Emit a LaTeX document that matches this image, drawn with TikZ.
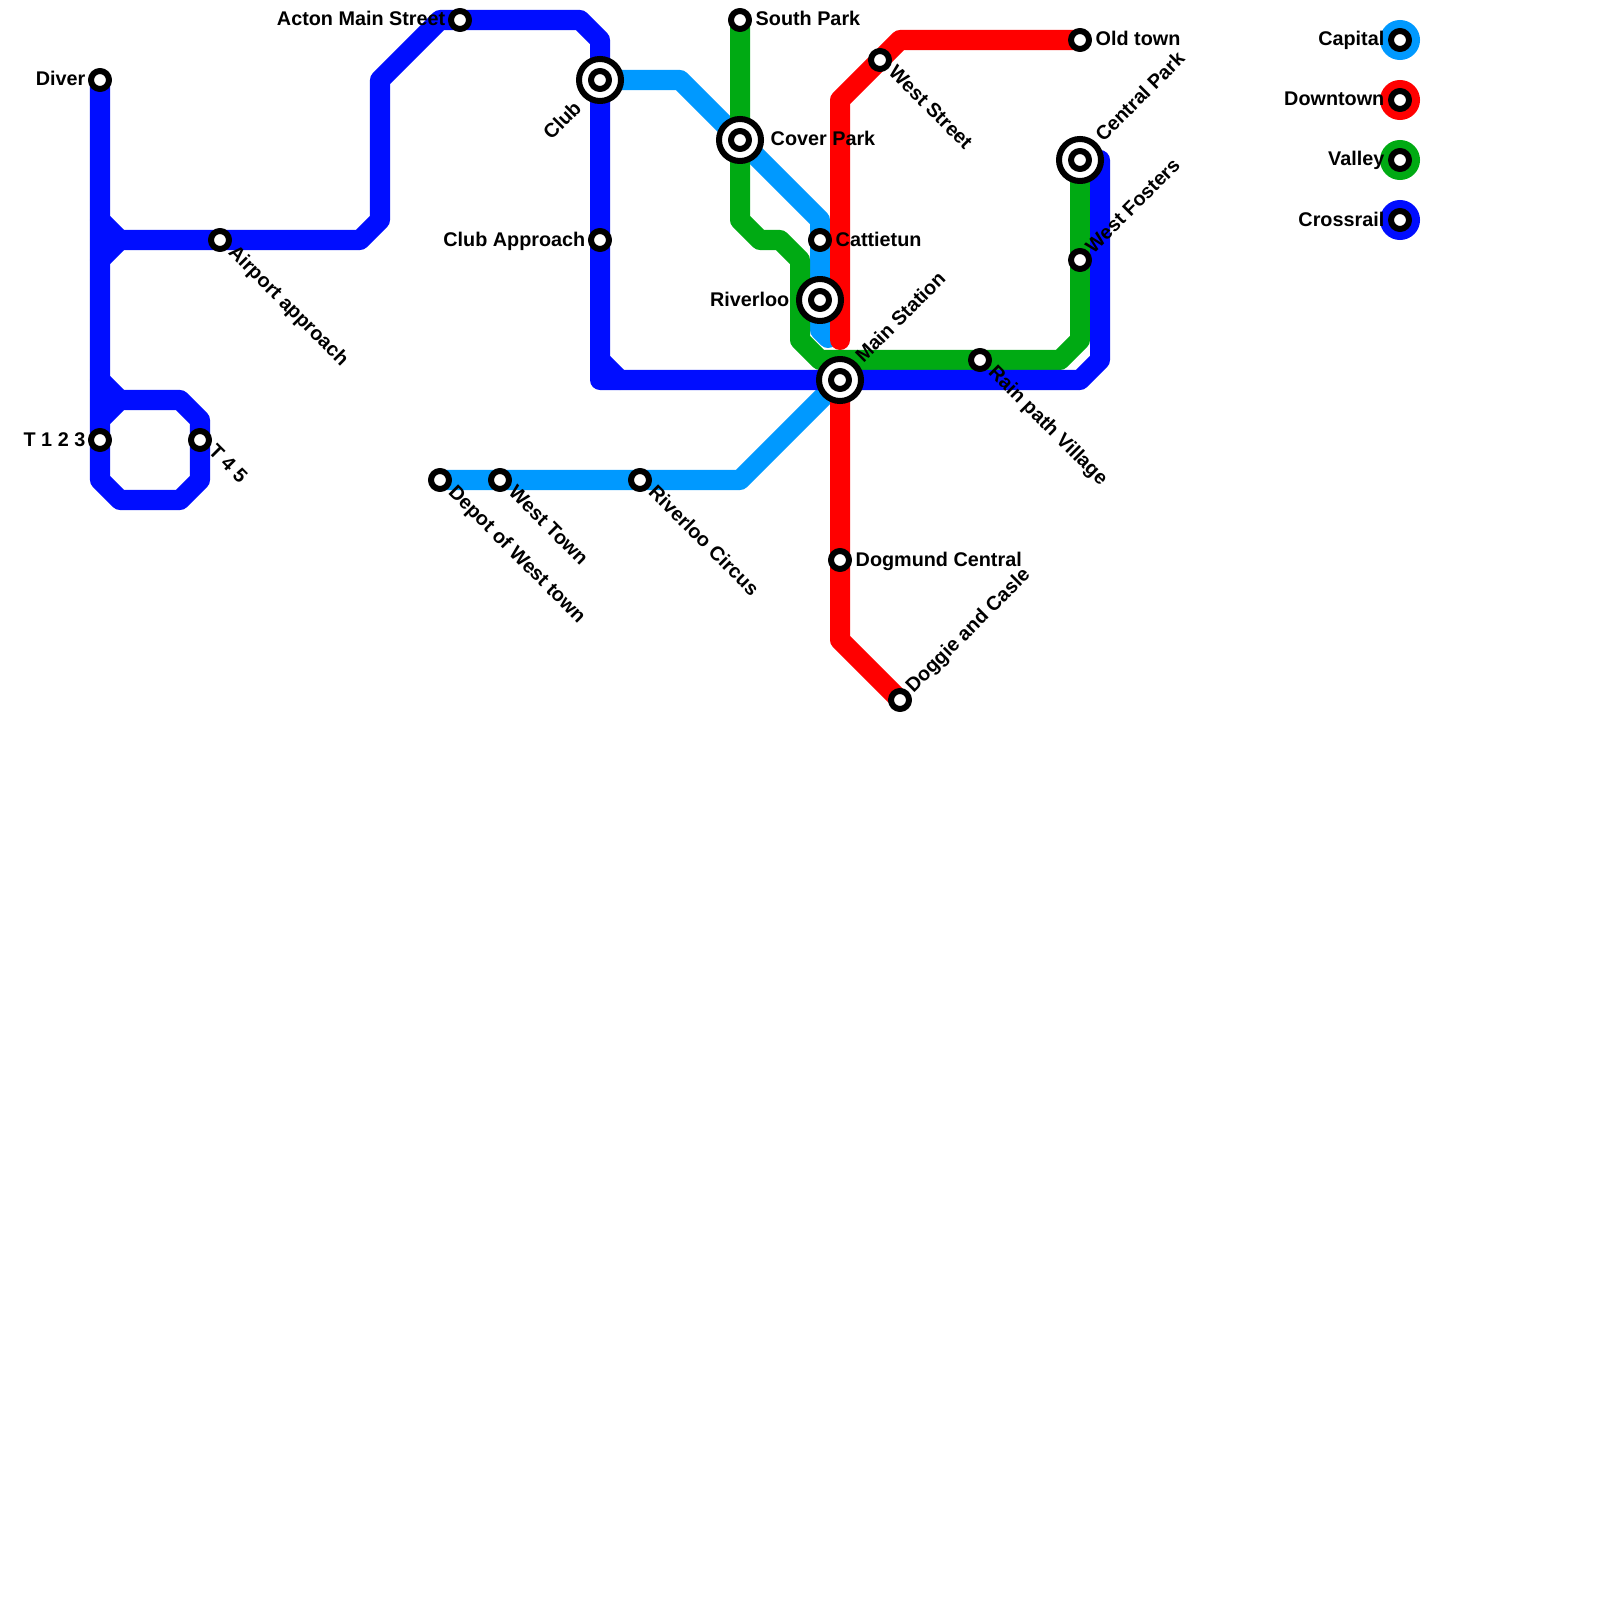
\documentclass[tikz,border=0pt]{standalone}
\usepackage{fontspec}
\setmainfont{Liberation Sans}
\definecolor{capital}{RGB}{0,153,255}
\definecolor{downtown}{RGB}{255,0,0}
\definecolor{valley}{RGB}{0,170,19}
\definecolor{crossrail}{RGB}{0,13,255}
\tikzset{
  route/.style={line width=0.2cm},
  stopmark/.style={circle, draw=black, fill=white, line width=0.06cm, minimum size=0.18cm, inner sep=0pt},
  hubmark/.style={circle, draw=black, fill=white, line width=0.06cm, minimum size=0.42cm, inner sep=0pt},
  keydisc/.style={circle, minimum size=0.4cm, inner sep=0pt},
  lab/.style={font=\fontsize{5.63}{6.5}\selectfont\bfseries, inner sep=0pt, text=black},
  labl/.style={lab, anchor=base east},
  labr/.style={lab, anchor=base west},
  labdown/.style={lab, anchor=base west, rotate=-45},
  labup/.style={lab, anchor=base west, rotate=45},
  labupend/.style={lab, anchor=base east, rotate=45},
}
\begin{document}
\begin{tikzpicture}[x=0.01cm, y=-0.01cm, line cap=round, line join=round]
\useasboundingbox (0,0) rectangle (1600,1600);

% fermate
\coordinate (Diver) at (100,80);
\coordinate (Tonetwothree) at (100,440);
\coordinate (Tfourfive) at (200,440);
\coordinate (Airport) at (220,240);
\coordinate (Acton) at (460,20);
\coordinate (Club) at (600,80);
\coordinate (ClubAppr) at (600,240);
\coordinate (Depot) at (440,480);
\coordinate (WestTown) at (500,480);
\coordinate (RivCircus) at (640,480);
\coordinate (SouthPark) at (740,20);
\coordinate (CoverPark) at (740,140);
\coordinate (Cattietun) at (820,240);
\coordinate (Riverloo) at (820,300);
\coordinate (MainSt) at (840,380);
\coordinate (WestSt) at (880,60);
\coordinate (Dogmund) at (840,560);
\coordinate (Doggie) at (900,700);
\coordinate (RainPath) at (980,360);
\coordinate (OldTown) at (1080,40);
\coordinate (CentralPark) at (1080,160);
\coordinate (WestFosters) at (1080,260);

% capital
\draw[route, capital] (Depot) -- (740,480) -- (MainSt);
\draw[route, capital] (Club) -- (680,80) -- (820,220) -- (820,330) -- (828,338);

% downtown
\draw[route, downtown] (OldTown) -- (900,40) -- (840,100) -- (840,340);
\draw[route, downtown] (MainSt) -- (840,640) -- (Doggie);

% valley
\draw[route, valley] (SouthPark) -- (740,220) -- (760,240) -- (780,240) -- (800,260) -- (800,340) -- (820,360) -- (1060,360) -- (1080,340) -- (CentralPark);

% crossrail
\draw[route, crossrail] (Diver) -- (100,480) -- (120,500) -- (180,500) -- (200,480) -- (200,420) -- (180,400) -- (120,400) -- (100,420);
\draw[route, crossrail] (100,380) -- (120,400);
\draw[route, crossrail] (100,220) -- (120,240) -- (100,260);
\draw[route, crossrail] (120,240) -- (360,240) -- (380,220) -- (380,80) -- (440,20) -- (580,20) -- (600,40) -- (600,380) -- (1080,380) -- (1100,360) -- (1100,160);
\draw[route, crossrail] (600,360) -- (620,380);

% anelli grandi
\node[hubmark] (ClubRing) at (Club) {};
\node[hubmark] (CoverRing) at (CoverPark) {};
\node[hubmark] (RiverlooRing) at (Riverloo) {};
\node[hubmark] (MainRing) at (MainSt) {};
\node[hubmark] (CentralRing) at (CentralPark) {};

% anelli piccoli
\node[stopmark] (DiverDot) at (Diver) {};
\node[stopmark] (TonetwothreeDot) at (Tonetwothree) {};
\node[stopmark] (TfourfiveDot) at (Tfourfive) {};
\node[stopmark] (AirportDot) at (Airport) {};
\node[stopmark] (ActonDot) at (Acton) {};
\node[stopmark] (ClubDot) at (Club) {};
\node[stopmark] (ClubApprDot) at (ClubAppr) {};
\node[stopmark] (DepotDot) at (Depot) {};
\node[stopmark] (WestTownDot) at (WestTown) {};
\node[stopmark] (RivCircusDot) at (RivCircus) {};
\node[stopmark] (SouthParkDot) at (SouthPark) {};
\node[stopmark] (CoverParkDot) at (CoverPark) {};
\node[stopmark] (CattietunDot) at (Cattietun) {};
\node[stopmark] (RiverlooDot) at (Riverloo) {};
\node[stopmark] (MainStDot) at (MainSt) {};
\node[stopmark] (WestStDot) at (WestSt) {};
\node[stopmark] (DogmundDot) at (Dogmund) {};
\node[stopmark] (DoggieDot) at (Doggie) {};
\node[stopmark] (RainPathDot) at (RainPath) {};
\node[stopmark] (OldTownDot) at (OldTown) {};
\node[stopmark] (CentralParkDot) at (CentralPark) {};
\node[stopmark] (WestFostersDot) at (WestFosters) {};

% etichette
\node[labl] (DiverLab) at (86,86) {Diver};
\node[labl] (TonetwothreeLab) at (86,446) {T 1 2 3};
\node[labdown] (TfourfiveLab) at (207,452) {T 4 5};
\node[labdown] (AirportLab) at (227,253) {Airport approach};
\node[labl] (ActonLab) at (446,26) {Acton Main Street};
\node[labupend] (ClubLab) at (583,109) {Club};
\node[labl] (ClubApprLab) at (586,246) {Club Approach};
\node[labdown] (DepotLab) at (447,493) {Depot of West town};
\node[labdown] (WestTownLab) at (507,493) {West Town};
\node[labdown] (RivCircusLab) at (647,493) {Riverloo Circus};
\node[labr] (SouthParkLab) at (755,26) {South Park};
\node[labr] (CoverParkLab) at (770,146) {Cover Park};
\node[labr] (CattietunLab) at (835,246) {Cattietun};
\node[labl] (RiverlooLab) at (790,306) {Riverloo};
\node[labup] (MainStLab) at (863,364) {Main Station};
\node[labdown] (WestStLab) at (887,73) {West Street};
\node[labr] (DogmundLab) at (855,566) {Dogmund Central};
\node[labup] (DoggieLab) at (913,694) {Doggie and Casle};
\node[labdown] (RainPathLab) at (987,373) {Rain path Village};
\node[labr] (OldTownLab) at (1095,46) {Old town};
\node[labup] (CentralParkLab) at (1103,143) {Central Park};
\node[labup] (WestFostersLab) at (1093,255) {West Fosters};

% legenda
\node[keydisc, fill=capital] (KeyCapital) at (1400,40) {};
\node[keydisc, fill=downtown] (KeyDowntown) at (1400,100) {};
\node[keydisc, fill=valley] (KeyValley) at (1400,160) {};
\node[keydisc, fill=crossrail] (KeyCrossrail) at (1400,220) {};
\node[stopmark] (KeyCapitalDot) at (KeyCapital) {};
\node[stopmark] (KeyDowntownDot) at (KeyDowntown) {};
\node[stopmark] (KeyValleyDot) at (KeyValley) {};
\node[stopmark] (KeyCrossrailDot) at (KeyCrossrail) {};
\node[labl] (KeyCapitalLab) at (1385,46) {Capital};
\node[labl] (KeyDowntownLab) at (1385,106) {Downtown};
\node[labl] (KeyValleyLab) at (1385,166) {Valley};
\node[labl] (KeyCrossrailLab) at (1385,226) {Crossrail};

\end{tikzpicture}
\end{document}
